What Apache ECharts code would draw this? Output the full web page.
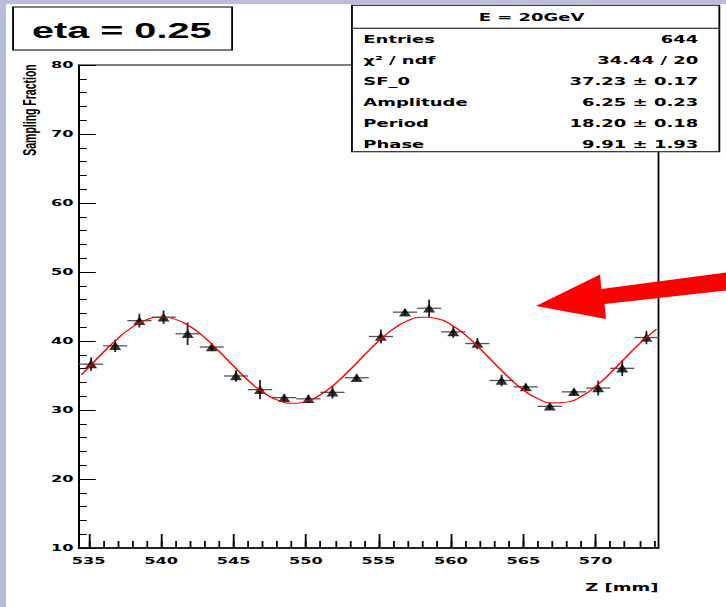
<!DOCTYPE html>
<html><head><meta charset="utf-8">
<script src="https://cdn.jsdelivr.net/npm/echarts@6/dist/echarts.min.js"></script>
<style>
html,body{margin:0;padding:0;width:726px;height:607px;overflow:hidden;background:#babcdc;}
#wrap{position:absolute;left:6px;top:4px;width:720px;height:603px;background:#fff;overflow:hidden;}
#chart{position:absolute;left:0;top:0;width:400px;height:603px;transform:scaleX(1.8);transform-origin:0 0;}
</style></head><body><div id="wrap"><div id="chart"></div></div>
<script>
// ---- data ----
const binCenters = [535.17, 536.83, 538.50, 540.17, 541.83, 543.50, 545.17, 546.83, 548.50, 550.17, 551.83, 553.50,
                    555.17, 556.83, 558.50, 560.17, 561.83, 563.50, 565.17, 566.83, 568.50, 570.17, 571.83, 573.50];
const sfValues = [36.65, 39.30, 42.95, 43.45, 41.05, 39.13, 34.93, 32.95, 31.79, 31.62, 32.56, 34.68,
                  40.65, 44.18, 44.74, 41.32, 39.63, 34.28, 33.35, 30.53, 32.63, 33.18, 36.04, 40.50];
const sfErrors = [0.97, 0.90, 1.00, 0.97, 1.64, 0.56, 0.82, 1.38, 0.50, 0.60, 0.90, 0.45,
                  1.00, 0.45, 1.26, 0.85, 0.82, 0.82, 0.48, 0.48, 0.48, 1.07, 1.13, 0.97];
const binHalfWidth = 0.8333;
const fitZ = [534.5, 535, 536, 537, 538, 539, 540, 541, 542, 543, 544, 545, 546, 547, 548, 549, 550, 551, 552, 553, 554,
              555, 556, 557, 558, 559, 560, 561, 562, 563, 564, 565, 566, 567, 568, 569, 570, 571, 572, 573, 574, 574.2];
const fitValues = [35.12, 36.17, 38.32, 40.34, 41.99, 43.08, 43.48, 43.14, 42.11, 40.50, 38.50, 36.36, 34.31, 32.61,
                   31.46, 30.99, 31.25, 32.22, 33.78, 35.75, 37.89, 39.95, 41.70, 42.91, 43.46, 43.27, 42.37, 40.86,
                   38.92, 36.79, 34.70, 32.92, 31.64, 31.02, 31.14, 31.97, 33.43, 35.33, 37.46, 39.56, 41.38, 41.70];
const xMajorTicks = [535, 540, 545, 550, 555, 560, 565, 570];
const xMinorTicks = [535,536,537,538,539,540,541,542,543,544,545,546,547,548,549,550,551,552,553,554,
                     555,556,557,558,559,560,561,562,563,564,565,566,567,568,569,570,571,572,573,574];
const xRange = [534.333, 574.333];
const yRange = [10, 80];
const yStep = 10;
const plotTitle = 'eta = 0.25';
const statTitle = 'E = 20GeV';
const statLabels = ['Entries', 'χ² / ndf', 'SF_0', 'Amplitude', 'Period', 'Phase'];
const statValues = ['644', '34.44 / 20', '37.23 ± 0.17', '6.25 ± 0.23', '18.20 ± 0.18', '9.91 ± 1.93'];
const xTitle = 'Z [mm]';
const yTitle = 'Sampling Fraction';

// ---- chart ----
const chart = echarts.init(document.getElementById('chart'), null, {renderer: 'svg', width: 400, height: 603});
const labFont = {fontFamily: 'DejaVu Sans', fontWeight: 'bold', fontSize: 9, color: '#000'};
const statFont = 'bold 10px "DejaVu Sans"';

const statChildren = [
  {type: 'rect', shape: {x: 192.2, y: 1.3, width: 204.1, height: 146.4}, style: {fill: '#fff', stroke: '#000', lineWidth: 1}},
  {type: 'line', shape: {x1: 192.2, y1: 24.3, x2: 396.3, y2: 24.3}, style: {stroke: '#000', lineWidth: 1}},
  {type: 'text', style: {text: statTitle, x: 292, y: 13, font: statFont, fill: '#000',
    align: 'center', verticalAlign: 'middle', textAlign: 'center', textVerticalAlign: 'middle'}}
];
statLabels.forEach((s, i) => {
  const y = 35.5 + i * 20.9;
  statChildren.push({type: 'text', style: {text: s, x: 198.5, y: y, font: statFont, fill: '#000',
    align: 'left', verticalAlign: 'middle', textAlign: 'left', textVerticalAlign: 'middle'}});
  statChildren.push({type: 'text', style: {text: statValues[i], x: 384.6, y: y, font: statFont, fill: '#000',
    align: 'right', verticalAlign: 'middle', textAlign: 'right', textVerticalAlign: 'middle'}});
});

const option = {
  animation: false,
  backgroundColor: '#fff',
  grid: {left: 40.56, right: 37.5, top: 61, bottom: 59, show: true, borderColor: '#000', borderWidth: 1,
         backgroundColor: 'transparent', containLabel: false, outerBoundsMode: 'none'},
  xAxis: [{
    type: 'value', min: xRange[0], max: xRange[1], position: 'bottom',
    axisLine: {show: true, onZero: false, lineStyle: {color: '#000', width: 1.5}},
    axisTick: {show: true, inside: true, length: 14, customValues: xMajorTicks, lineStyle: {color: '#000', width: 1}},
    axisLabel: Object.assign({show: true, margin: 8, customValues: xMajorTicks, formatter: v => String(Math.round(v))}, labFont),
    splitLine: {show: false},
    name: xTitle, nameLocation: 'end', nameGap: 0,
    nameTextStyle: {fontFamily: 'DejaVu Sans', fontWeight: 'bold', fontSize: 10, color: '#000',
                    align: 'right', verticalAlign: 'top', padding: [34, 0, 0, 0]}
  }, {
    type: 'value', min: xRange[0], max: xRange[1], position: 'bottom', gridIndex: 0,
    axisLine: {show: false},
    axisTick: {show: true, inside: true, length: 7, customValues: xMinorTicks, lineStyle: {color: '#000', width: 1}},
    axisLabel: {show: false},
    splitLine: {show: false}
  }],
  yAxis: {
    type: 'value', min: yRange[0], max: yRange[1], interval: yStep,
    axisLine: {show: true, onZero: false, lineStyle: {color: '#000', width: 1}},
    axisTick: {show: true, inside: true, length: 9.3, lineStyle: {color: '#000', width: 1}},
    minorTick: {show: true, splitNumber: 5, length: 4.4, lineStyle: {color: '#000', width: 1}},
    axisLabel: Object.assign({margin: 3}, labFont),
    splitLine: {show: false}, minorSplitLine: {show: false}
  },
  series: [{
    type: 'custom', z: 2, xAxisIndex: 0,
    data: binCenters.map((z, i) => [z, sfValues[i], sfErrors[i]]),
    renderItem: function (params, api) {
      const x = api.value(0), y = api.value(1), e = api.value(2);
      const l = api.coord([x - binHalfWidth, y]), r = api.coord([x + binHalfWidth, y]);
      const t = api.coord([x, y + e]), b = api.coord([x, y - e]);
      return {type: 'group', children: [
        {type: 'line', shape: {x1: l[0], y1: l[1], x2: r[0], y2: r[1]}, style: {stroke: '#555', lineWidth: 1.3}},
        {type: 'line', shape: {x1: t[0], y1: t[1], x2: b[0], y2: b[1]}, style: {stroke: '#222', lineWidth: 1}}
      ]};
    }
  }, {
    type: 'scatter', z: 3, xAxisIndex: 0,
    symbol: 'triangle', symbolSize: [6.7, 8.5],
    itemStyle: {color: '#000'},
    data: binCenters.map((z, i) => [z, sfValues[i]])
  }, {
    type: 'line', z: 4, xAxisIndex: 0, smooth: true, showSymbol: false, symbol: 'none',
    lineStyle: {color: '#ff0000', width: 1},
    data: fitZ.map((z, i) => [z, fitValues[i]])
  }],
  graphic: {elements: [
    {type: 'group', z: 100, children: [
      {type: 'rect', shape: {x: 3.9, y: 3, width: 121.7, height: 43}, style: {fill: '#fff', stroke: '#000', lineWidth: 1}},
      {type: 'text', style: {text: plotTitle, x: 64.3, y: 26.5, font: 'bold 22px "Liberation Sans"', fill: '#000',
        align: 'center', verticalAlign: 'middle', textAlign: 'center', textVerticalAlign: 'middle'}}
    ]},
    {type: 'group', z: 100, children: statChildren},
    {type: 'text', z: 100, x: 12.8, y: 106, rotation: Math.PI / 2,
     style: {text: yTitle, x: 0, y: 0, font: 'bold 10.5px "Liberation Sans"', fill: '#000',
       align: 'center', verticalAlign: 'middle', textAlign: 'center', textVerticalAlign: 'middle'}},
    {type: 'polygon', z: 120, shape: {points: [[294.4, 302], [330, 270.5], [330.8, 285], [400, 268.5], [400, 286.5], [332.5, 300], [333.3, 315]]},
     style: {fill: '#ff0000'}}
  ]}
};
chart.setOption(option);
</script></body></html>
